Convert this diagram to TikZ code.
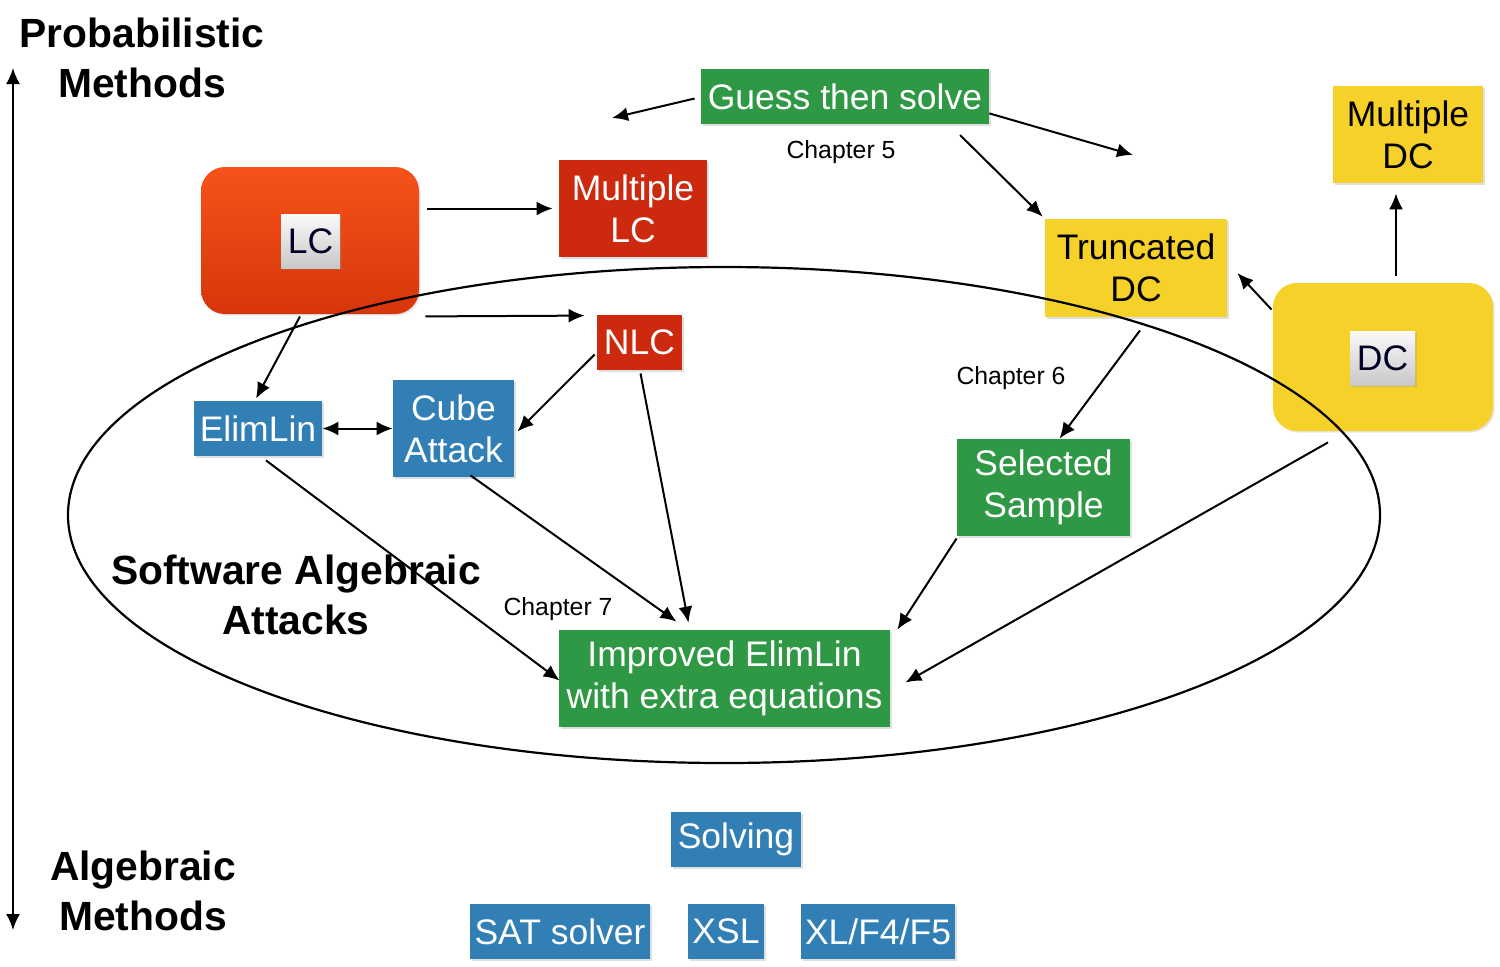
\documentclass[tikz,border=0pt]{standalone}
\usepackage{fontspec}
\setmainfont{Liberation Sans}
\usetikzlibrary{arrows.meta,shapes,positioning,calc,shadows}

\definecolor{gtsGreen}{RGB}{47,152,69}
\definecolor{saBlue}{RGB}{50,127,182}
\definecolor{lcRed}{RGB}{204,41,14}
\definecolor{dcYellow}{RGB}{245,209,42}
\definecolor{lcTop}{RGB}{246,82,26}
\definecolor{lcBot}{RGB}{214,54,10}
\definecolor{tagTop}{RGB}{250,250,250}
\definecolor{tagBot}{RGB}{200,200,200}

\tikzset{
  box/.style={rectangle, inner sep=0pt, align=center,
    font=\fontsize{17.75}{21}\selectfont,
    drop shadow={opacity=0.25,shadow xshift=0.8pt,shadow yshift=-0.8pt}},
  greenbox/.style={box, fill=gtsGreen, text=white},
  bluebox/.style={box, fill=saBlue, text=white},
  redbox/.style={box, fill=lcRed, text=white},
  yellowbox/.style={box, fill=dcYellow, text=black},
  bigbox/.style={rectangle, rounded corners=12pt, minimum width=109pt, minimum height=73.5pt,
    drop shadow={opacity=0.2,shadow xshift=0.8pt,shadow yshift=-0.8pt}},
  tagbox/.style={box, top color=tagTop, bottom color=tagBot, text=black!85!blue},
  title/.style={align=center, font=\fontsize{20.4}{25}\selectfont\bfseries},
  chapter/.style={font=\fontsize{12.4}{14}\selectfont},
  link/.style={->, line width=1pt}
}

\begin{document}
\begin{tikzpicture}[x=0.5pt, y=-0.5pt, >={Latex[length=8pt,width=7pt]}]
\useasboundingbox (0,0) rectangle (1500,966);

% Axis on the left
\node[title] (prob) at (142,58) {Probabilistic\\Methods};
\node[title] (alg) at (143,891) {Algebraic\\Methods};
\coordinate (axtop) at (13,68);
\coordinate (axbot) at (13,930);
\draw[<->, line width=1pt] (axtop) -- (axbot);

% Big LC and DC boxes
\node[bigbox, top color=lcTop, bottom color=lcBot] (lc) at (310,240.5) {};
\node[tagbox, minimum width=29.5pt, minimum height=27pt] (lctag) at (310.5,241) {LC};
\node[bigbox, fill=dcYellow, minimum width=110pt, minimum height=74pt] (dc) at (1383,357) {};
\node[tagbox, minimum width=32.5pt, minimum height=27pt] (dctag) at (1382.5,358) {DC};

% Boxes
\node[redbox, minimum width=74pt, minimum height=48.5pt] (mlc) at (633,208.5) {Multiple\\LC};
\node[greenbox, minimum width=144pt, minimum height=27.5pt] (gts) at (845,96.5) {Guess then solve};
\node[yellowbox, minimum width=75pt, minimum height=48.5pt] (mdc) at (1408,134.5) {Multiple\\DC};
\node[yellowbox, minimum width=91pt, minimum height=49pt] (tdc) at (1136,268) {Truncated\\DC};
\node[redbox, minimum width=42.5pt, minimum height=27.5pt] (nlc) at (639.5,342.5) {NLC};
\node[bluebox, minimum width=64pt, minimum height=27.5pt] (el) at (258,428.5) {ElimLin};
\node[bluebox, minimum width=60.5pt, minimum height=48.5pt] (cube) at (453.5,428.5) {Cube\\Attack};
\node[greenbox, minimum width=86.5pt, minimum height=48.5pt] (ss) at (1043.5,487.5) {Selected\\Sample};
\node[greenbox, minimum width=165.5pt, minimum height=48.5pt] (imp) at (724.5,678.5) {Improved ElimLin\\with extra equations};

% Solvers
\node[bluebox, minimum width=65pt, minimum height=27.5pt] (solving) at (736,839.5) {Solving};
\node[bluebox, minimum width=90pt, minimum height=27.5pt] (sat) at (560,931.5) {SAT solver};
\node[bluebox, minimum width=38pt, minimum height=27.5pt] (xsl) at (726,931.5) {XSL};
\node[bluebox, minimum width=77pt, minimum height=27.5pt] (xlf) at (878,931.5) {XL/F4/F5};

% Labels
\node[chapter] (ch5) at (841,152) {Chapter 5};
\node[chapter] (ch6) at (1011,378) {Chapter 6};
\node[chapter] (ch7) at (558,609) {Chapter 7};
\node[title] (saa) at (296,595) {Software Algebraic\\Attacks};

% Arrows
\coordinate (gtsleft) at (612,118);
\coordinate (gtsright) at (1133,155);
\coordinate (gtsmid) at (960,135);
\draw[link] ($(gts.west)+(-6,2)$) -- (gtsleft);
\draw[link] ($(gts.south east)+(0,-11)$) -- (gtsright);
\draw[link] (gtsmid) -- ($(tdc.north west)+(-2,-2)$);
\draw[link] ($(lc.east |- mlc)+(8,0)$) -- ($(mlc.west)+(-6,0)$);
\draw[link] ($(lc.south east)+(6,2)$) -- ($(nlc.north west)+(-12,1)$);
\draw[link] ($(lc.south)+(-10,2)$) -- ($(el.north)+(-2,-2)$);
\draw[link] ($(nlc.west)+(-2,12)$) -- ($(cube.east)+(3,3)$);
\draw[<->, line width=1pt] (el.east) -- (cube.west);
\draw[link] ($(el.south)+(8,4)$) -- ($(imp.west)+(1,2)$);
\draw[link] ($(cube.south)+(17,-2)$) -- ($(imp.north)+(-48,-8)$);
\draw[link] ($(nlc.south)+(1,3)$) -- ($(imp.north)+(-36,-7)$);
\draw[link] ($(tdc.south)+(4,13)$) -- ($(ss.north)+(16,0)$);
\draw[link] ($(ss.south west)+(0,2)$) -- ($(imp.north east)+(7,0)$);
\draw[link] ($(dc.south)+(-55,11)$) -- ($(imp.east)+(15,4)$);
\draw[link] ($(dc.north west)+(-1,27)$) -- ($(tdc.east)+(10,5)$);
\draw[link] ($(dc.north)+(13,-7)$) -- ($(mdc.south)+(-12,10)$);

% Software algebraic attacks region
\draw[line width=1.1pt] (724,515) ellipse [x radius=328pt, y radius=124pt];
\end{tikzpicture}
\end{document}
